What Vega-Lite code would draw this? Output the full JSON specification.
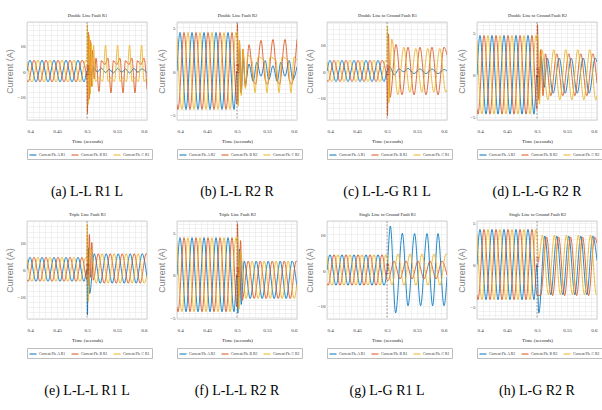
{
"$schema": "https://vega.github.io/schema/vega-lite/v6.json",
"padding": {"left": 4, "top": 11, "right": 2, "bottom": 4},
"background": "white",
"columns": 4,
"bounds": "flush",
"spacing": {"row": 101, "column": 30},
"resolve": {"scale": {"color": "independent"}, "legend": {"color": "independent"}},
"config": {
 "font": "Liberation Serif, DejaVu Serif, serif",
 "view": {"stroke": "#a8a8a8", "strokeWidth": 0.6},
 "axis": {"grid": true, "gridColor": "#e4e4e4", "gridWidth": 0.5, "domain": false, "ticks": false, "labelFontSize": 5, "labelColor": "#333", "labelFont": "Liberation Serif, DejaVu Serif, serif", "titleFont": "Liberation Serif, DejaVu Serif, serif", "titleFontWeight": "normal", "titleColor": "#222", "labelOverlap": false, "labelBound": false},
 "axisX": {"labelPadding": 8, "titleFontSize": 5, "titlePadding": 5},
 "axisY": {"labelPadding": 2, "titleFontSize": 9, "titleFont": "Liberation Sans, DejaVu Sans, sans-serif", "titleColor": "#808080", "titlePadding": 3},
 "legend": {"orient": "bottom", "direction": "horizontal", "labelFontSize": 3.8, "labelFont": "Liberation Serif, DejaVu Serif, serif", "labelColor": "#333", "symbolSize": 49, "symbolStrokeWidth": 1, "columnPadding": 3, "labelOffset": 2, "padding": 2, "strokeColor": "#bdbdbd", "fillColor": "white", "offset": 6},
 "title": {"font": "Liberation Serif, DejaVu Serif, serif", "fontSize": 14, "fontWeight": "normal", "color": "#000", "orient": "bottom", "offset": 25, "anchor": "middle"}
},
"datasets": {
"a": [
{"s":"A","t":0.4,"v":0},{"s":"A","t":0.405,"v":4.2},{"s":"A","t":0.415,"v":-4.2},{"s":"A","t":0.425,"v":4.2},{"s":"A","t":0.435,"v":-4.2},{"s":"A","t":0.445,"v":4.2},{"s":"A","t":0.455,"v":-4.2},{"s":"A","t":0.465,"v":4.2},{"s":"A","t":0.475,"v":-4.2},{"s":"A","t":0.485,"v":4.2},{"s":"A","t":0.495,"v":-4.2},
{"s":"A","t":0.5,"v":0},{"s":"A","t":0.503,"v":1.2},{"s":"A","t":0.507,"v":-1.8},{"s":"A","t":0.511,"v":1.5},{"s":"A","t":0.517,"v":-0.4},{"s":"A","t":0.524,"v":1.1},{"s":"A","t":0.531,"v":-0.6},{"s":"A","t":0.537,"v":0.7},{"s":"A","t":0.544,"v":-0.8},{"s":"A","t":0.551,"v":1},{"s":"A","t":0.558,"v":-0.5},{"s":"A","t":0.564,"v":0.8},{"s":"A","t":0.571,"v":-0.8},{"s":"A","t":0.578,"v":1},{"s":"A","t":0.585,"v":-0.5},{"s":"A","t":0.591,"v":0.8},{"s":"A","t":0.6,"v":-0.7},
{"s":"B","t":0.4,"v":-3.65},{"s":"B","t":0.4017,"v":-4.2},{"s":"B","t":0.4117,"v":4.2},{"s":"B","t":0.4217,"v":-4.2},{"s":"B","t":0.4317,"v":4.2},{"s":"B","t":0.4417,"v":-4.2},{"s":"B","t":0.4517,"v":4.2},{"s":"B","t":0.4617,"v":-4.2},{"s":"B","t":0.4717,"v":4.2},{"s":"B","t":0.4817,"v":-4.2},{"s":"B","t":0.4917,"v":4.2},
{"s":"B","t":0.5,"v":-3.6},{"s":"B","t":0.5008,"v":-16.5},{"s":"B","t":0.502,"v":15},{"s":"B","t":0.5035,"v":-11},{"s":"B","t":0.505,"v":12},{"s":"B","t":0.507,"v":-6},{"s":"B","t":0.509,"v":8},{"s":"B","t":0.512,"v":-3},{"s":"B","t":0.515,"v":5},{"s":"B","t":0.52,"v":-8},{"s":"B","t":0.524,"v":4},{"s":"B","t":0.53,"v":2.5},{"s":"B","t":0.535,"v":5},{"s":"B","t":0.54,"v":-8.5},{"s":"B","t":0.544,"v":4},{"s":"B","t":0.55,"v":2.5},{"s":"B","t":0.555,"v":5},{"s":"B","t":0.56,"v":-8.5},{"s":"B","t":0.564,"v":4},{"s":"B","t":0.57,"v":2.5},{"s":"B","t":0.575,"v":5},{"s":"B","t":0.58,"v":-8.5},{"s":"B","t":0.584,"v":4},{"s":"B","t":0.59,"v":2.5},{"s":"B","t":0.595,"v":5},{"s":"B","t":0.6,"v":-7},
{"s":"C","t":0.4,"v":3.65},{"s":"C","t":0.4083,"v":-4.2},{"s":"C","t":0.4183,"v":4.2},{"s":"C","t":0.4283,"v":-4.2},{"s":"C","t":0.4383,"v":4.2},{"s":"C","t":0.4483,"v":-4.2},{"s":"C","t":0.4583,"v":4.2},{"s":"C","t":0.4683,"v":-4.2},{"s":"C","t":0.4783,"v":4.2},{"s":"C","t":0.4883,"v":-4.2},{"s":"C","t":0.4983,"v":4.2},
{"s":"C","t":0.5,"v":3.8},{"s":"C","t":0.5008,"v":18},{"s":"C","t":0.5022,"v":-13},{"s":"C","t":0.5038,"v":14},{"s":"C","t":0.5055,"v":-9},{"s":"C","t":0.5072,"v":11},{"s":"C","t":0.509,"v":-6},{"s":"C","t":0.511,"v":10},{"s":"C","t":0.514,"v":-4},{"s":"C","t":0.52,"v":-2.5},{"s":"C","t":0.526,"v":-4},{"s":"C","t":0.531,"v":10},{"s":"C","t":0.535,"v":-4},{"s":"C","t":0.54,"v":-2.5},{"s":"C","t":0.546,"v":-4},{"s":"C","t":0.551,"v":10},{"s":"C","t":0.555,"v":-4},{"s":"C","t":0.56,"v":-2.5},{"s":"C","t":0.566,"v":-4},{"s":"C","t":0.571,"v":10},{"s":"C","t":0.575,"v":-4},{"s":"C","t":0.58,"v":-2.5},{"s":"C","t":0.586,"v":-4},{"s":"C","t":0.591,"v":10},{"s":"C","t":0.595,"v":-4},{"s":"C","t":0.6,"v":-2.5}
],
"b": [
{"s":"A","t":0.4,"v":0},{"s":"A","t":0.405,"v":4.4},{"s":"A","t":0.415,"v":-4.4},{"s":"A","t":0.425,"v":4.4},{"s":"A","t":0.435,"v":-4.4},{"s":"A","t":0.445,"v":4.4},{"s":"A","t":0.455,"v":-4.4},{"s":"A","t":0.465,"v":4.4},{"s":"A","t":0.475,"v":-4.4},{"s":"A","t":0.485,"v":4.4},{"s":"A","t":0.495,"v":-4.4},
{"s":"A","t":0.5,"v":0},{"s":"A","t":0.502,"v":-3.5},{"s":"A","t":0.504,"v":2.5},{"s":"A","t":0.507,"v":-2.5},{"s":"A","t":0.51,"v":1.5},{"s":"A","t":0.514,"v":-1.5},{"s":"A","t":0.52,"v":0.8},{"s":"A","t":0.527,"v":-1.2},{"s":"A","t":0.533,"v":1},{"s":"A","t":0.54,"v":-0.6},{"s":"A","t":0.547,"v":1.2},{"s":"A","t":0.553,"v":-1},{"s":"A","t":0.56,"v":0.6},{"s":"A","t":0.567,"v":-1.2},{"s":"A","t":0.573,"v":1},{"s":"A","t":0.58,"v":-0.6},{"s":"A","t":0.587,"v":1.2},{"s":"A","t":0.593,"v":-1},{"s":"A","t":0.6,"v":0.5},
{"s":"B","t":0.4,"v":-3.83},{"s":"B","t":0.4017,"v":-4.4},{"s":"B","t":0.4117,"v":4.4},{"s":"B","t":0.4217,"v":-4.4},{"s":"B","t":0.4317,"v":4.4},{"s":"B","t":0.4417,"v":-4.4},{"s":"B","t":0.4517,"v":4.4},{"s":"B","t":0.4617,"v":-4.4},{"s":"B","t":0.4717,"v":4.4},{"s":"B","t":0.4817,"v":-4.4},{"s":"B","t":0.4917,"v":4.4},
{"s":"B","t":0.5,"v":-3.8},{"s":"B","t":0.5008,"v":5.4},{"s":"B","t":0.502,"v":-3},{"s":"B","t":0.504,"v":3.5},{"s":"B","t":0.507,"v":-2.5},{"s":"B","t":0.51,"v":2.5},{"s":"B","t":0.514,"v":-1.8},{"s":"B","t":0.52,"v":3},{"s":"B","t":0.527,"v":-1},{"s":"B","t":0.531,"v":-1.5},{"s":"B","t":0.54,"v":3.5},{"s":"B","t":0.547,"v":-1},{"s":"B","t":0.551,"v":-1.5},{"s":"B","t":0.56,"v":3.6},{"s":"B","t":0.567,"v":-1},{"s":"B","t":0.571,"v":-1.5},{"s":"B","t":0.58,"v":3.6},{"s":"B","t":0.587,"v":-1},{"s":"B","t":0.591,"v":-1.5},{"s":"B","t":0.6,"v":3.6},
{"s":"C","t":0.4,"v":3.83},{"s":"C","t":0.4083,"v":-4.4},{"s":"C","t":0.4183,"v":4.4},{"s":"C","t":0.4283,"v":-4.4},{"s":"C","t":0.4383,"v":4.4},{"s":"C","t":0.4483,"v":-4.4},{"s":"C","t":0.4583,"v":4.4},{"s":"C","t":0.4683,"v":-4.4},{"s":"C","t":0.4783,"v":4.4},{"s":"C","t":0.4883,"v":-4.4},{"s":"C","t":0.4983,"v":4.4},
{"s":"C","t":0.5,"v":3.8},{"s":"C","t":0.5008,"v":4.5},{"s":"C","t":0.502,"v":-4},{"s":"C","t":0.504,"v":3.5},{"s":"C","t":0.507,"v":-2.8},{"s":"C","t":0.51,"v":2.5},{"s":"C","t":0.514,"v":-2},{"s":"C","t":0.518,"v":1.8},{"s":"C","t":0.525,"v":1.2},{"s":"C","t":0.53,"v":-2.5},{"s":"C","t":0.535,"v":1.6},{"s":"C","t":0.545,"v":1.2},{"s":"C","t":0.55,"v":-2.5},{"s":"C","t":0.555,"v":1.6},{"s":"C","t":0.565,"v":1.2},{"s":"C","t":0.57,"v":-2.5},{"s":"C","t":0.575,"v":1.6},{"s":"C","t":0.585,"v":1.2},{"s":"C","t":0.59,"v":-2.5},{"s":"C","t":0.595,"v":1.6},{"s":"C","t":0.6,"v":1.2}
],
"c": [
{"s":"A","t":0.4,"v":0},{"s":"A","t":0.405,"v":4},{"s":"A","t":0.415,"v":-4},{"s":"A","t":0.425,"v":4},{"s":"A","t":0.435,"v":-4},{"s":"A","t":0.445,"v":4},{"s":"A","t":0.455,"v":-4},{"s":"A","t":0.465,"v":4},{"s":"A","t":0.475,"v":-4},{"s":"A","t":0.485,"v":4},{"s":"A","t":0.495,"v":-4},
{"s":"A","t":0.5,"v":0},{"s":"A","t":0.505,"v":1.5},{"s":"A","t":0.512,"v":-1.5},{"s":"A","t":0.52,"v":0.8},{"s":"A","t":0.528,"v":-0.3},{"s":"A","t":0.535,"v":1},{"s":"A","t":0.545,"v":-1},{"s":"A","t":0.555,"v":0.8},{"s":"A","t":0.565,"v":-1},{"s":"A","t":0.575,"v":0.8},{"s":"A","t":0.585,"v":-1},{"s":"A","t":0.595,"v":0.6},{"s":"A","t":0.6,"v":0},
{"s":"B","t":0.4,"v":-3.48},{"s":"B","t":0.4017,"v":-4},{"s":"B","t":0.4117,"v":4},{"s":"B","t":0.4217,"v":-4},{"s":"B","t":0.4317,"v":4},{"s":"B","t":0.4417,"v":-4},{"s":"B","t":0.4517,"v":4},{"s":"B","t":0.4617,"v":-4},{"s":"B","t":0.4717,"v":4},{"s":"B","t":0.4817,"v":-4},{"s":"B","t":0.4917,"v":4},
{"s":"B","t":0.5,"v":-3.5},{"s":"B","t":0.5008,"v":-17},{"s":"B","t":0.5025,"v":14},{"s":"B","t":0.505,"v":-10},{"s":"B","t":0.515,"v":10},{"s":"B","t":0.525,"v":-9},{"s":"B","t":0.535,"v":9},{"s":"B","t":0.545,"v":-9},{"s":"B","t":0.555,"v":9},{"s":"B","t":0.565,"v":-9},{"s":"B","t":0.575,"v":9},{"s":"B","t":0.585,"v":-9},{"s":"B","t":0.595,"v":9},{"s":"B","t":0.6,"v":6},
{"s":"C","t":0.4,"v":3.48},{"s":"C","t":0.4083,"v":-4},{"s":"C","t":0.4183,"v":4},{"s":"C","t":0.4283,"v":-4},{"s":"C","t":0.4383,"v":4},{"s":"C","t":0.4483,"v":-4},{"s":"C","t":0.4583,"v":4},{"s":"C","t":0.4683,"v":-4},{"s":"C","t":0.4783,"v":4},{"s":"C","t":0.4883,"v":-4},{"s":"C","t":0.4983,"v":4},
{"s":"C","t":0.5,"v":3.5},{"s":"C","t":0.5008,"v":17},{"s":"C","t":0.503,"v":-12},{"s":"C","t":0.508,"v":12},{"s":"C","t":0.518,"v":-9},{"s":"C","t":0.528,"v":9},{"s":"C","t":0.538,"v":-8},{"s":"C","t":0.548,"v":8.5},{"s":"C","t":0.558,"v":-8},{"s":"C","t":0.568,"v":8.5},{"s":"C","t":0.578,"v":-8},{"s":"C","t":0.588,"v":8.5},{"s":"C","t":0.598,"v":-8},{"s":"C","t":0.6,"v":-7}
],
"d": [
{"s":"A","t":0.4,"v":0},{"s":"A","t":0.405,"v":4.7},{"s":"A","t":0.415,"v":-4.7},{"s":"A","t":0.425,"v":4.7},{"s":"A","t":0.435,"v":-4.7},{"s":"A","t":0.445,"v":4.7},{"s":"A","t":0.455,"v":-4.7},{"s":"A","t":0.465,"v":4.7},{"s":"A","t":0.475,"v":-4.7},{"s":"A","t":0.485,"v":4.7},{"s":"A","t":0.495,"v":-4.7},
{"s":"A","t":0.5,"v":0},{"s":"A","t":0.503,"v":-2.8},{"s":"A","t":0.507,"v":2.2},{"s":"A","t":0.512,"v":-1.5},{"s":"A","t":0.517,"v":2},{"s":"A","t":0.527,"v":-2.2},{"s":"A","t":0.537,"v":2},{"s":"A","t":0.547,"v":-2.2},{"s":"A","t":0.557,"v":2},{"s":"A","t":0.567,"v":-2.2},{"s":"A","t":0.577,"v":2},{"s":"A","t":0.587,"v":-2.2},{"s":"A","t":0.597,"v":2},{"s":"A","t":0.6,"v":1.5},
{"s":"B","t":0.4,"v":-4.09},{"s":"B","t":0.4017,"v":-4.7},{"s":"B","t":0.4117,"v":4.7},{"s":"B","t":0.4217,"v":-4.7},{"s":"B","t":0.4317,"v":4.7},{"s":"B","t":0.4417,"v":-4.7},{"s":"B","t":0.4517,"v":4.7},{"s":"B","t":0.4617,"v":-4.7},{"s":"B","t":0.4717,"v":4.7},{"s":"B","t":0.4817,"v":-4.7},{"s":"B","t":0.4917,"v":4.7},
{"s":"B","t":0.5,"v":-4.1},{"s":"B","t":0.5008,"v":6},{"s":"B","t":0.503,"v":-3},{"s":"B","t":0.506,"v":3},{"s":"B","t":0.51,"v":-2.5},{"s":"B","t":0.514,"v":2.5},{"s":"B","t":0.523,"v":-2.5},{"s":"B","t":0.533,"v":2.5},{"s":"B","t":0.543,"v":-2.5},{"s":"B","t":0.553,"v":2.5},{"s":"B","t":0.563,"v":-2.5},{"s":"B","t":0.573,"v":2.5},{"s":"B","t":0.583,"v":-2.5},{"s":"B","t":0.593,"v":2.5},{"s":"B","t":0.6,"v":-1},
{"s":"C","t":0.4,"v":4.09},{"s":"C","t":0.4083,"v":-4.7},{"s":"C","t":0.4183,"v":4.7},{"s":"C","t":0.4283,"v":-4.7},{"s":"C","t":0.4383,"v":4.7},{"s":"C","t":0.4483,"v":-4.7},{"s":"C","t":0.4583,"v":4.7},{"s":"C","t":0.4683,"v":-4.7},{"s":"C","t":0.4783,"v":4.7},{"s":"C","t":0.4883,"v":-4.7},{"s":"C","t":0.4983,"v":4.7},
{"s":"C","t":0.5,"v":4.1},{"s":"C","t":0.501,"v":4.8},{"s":"C","t":0.504,"v":-3.5},{"s":"C","t":0.508,"v":3},{"s":"C","t":0.518,"v":-3},{"s":"C","t":0.528,"v":3},{"s":"C","t":0.538,"v":-3},{"s":"C","t":0.548,"v":3},{"s":"C","t":0.558,"v":-3},{"s":"C","t":0.568,"v":3},{"s":"C","t":0.578,"v":-3},{"s":"C","t":0.588,"v":3},{"s":"C","t":0.598,"v":-3},{"s":"C","t":0.6,"v":-2.5}
],
"e": [
{"s":"A","t":0.4,"v":0},{"s":"A","t":0.405,"v":4.5},{"s":"A","t":0.415,"v":-4.5},{"s":"A","t":0.425,"v":4.5},{"s":"A","t":0.435,"v":-4.5},{"s":"A","t":0.445,"v":4.5},{"s":"A","t":0.455,"v":-4.5},{"s":"A","t":0.465,"v":4.5},{"s":"A","t":0.475,"v":-4.5},{"s":"A","t":0.485,"v":4.5},{"s":"A","t":0.495,"v":-4.5},
{"s":"A","t":0.5,"v":0},{"s":"A","t":0.5008,"v":-17},{"s":"A","t":0.502,"v":8},{"s":"A","t":0.5045,"v":-9},{"s":"A","t":0.512,"v":5.8},{"s":"A","t":0.522,"v":-5.2},{"s":"A","t":0.532,"v":5.8},{"s":"A","t":0.542,"v":-5.2},{"s":"A","t":0.552,"v":5.8},{"s":"A","t":0.562,"v":-5.2},{"s":"A","t":0.572,"v":5.8},{"s":"A","t":0.582,"v":-5.2},{"s":"A","t":0.592,"v":5.8},{"s":"A","t":0.6,"v":-3},
{"s":"B","t":0.4,"v":-3.92},{"s":"B","t":0.4017,"v":-4.5},{"s":"B","t":0.4117,"v":4.5},{"s":"B","t":0.4217,"v":-4.5},{"s":"B","t":0.4317,"v":4.5},{"s":"B","t":0.4417,"v":-4.5},{"s":"B","t":0.4517,"v":4.5},{"s":"B","t":0.4617,"v":-4.5},{"s":"B","t":0.4717,"v":4.5},{"s":"B","t":0.4817,"v":-4.5},{"s":"B","t":0.4917,"v":4.5},
{"s":"B","t":0.5,"v":-3.9},{"s":"B","t":0.5008,"v":13},{"s":"B","t":0.5025,"v":-6},{"s":"B","t":0.504,"v":13},{"s":"B","t":0.506,"v":-3},{"s":"B","t":0.508,"v":10},{"s":"B","t":0.5105,"v":-4},{"s":"B","t":0.5187,"v":5.8},{"s":"B","t":0.5287,"v":-5.2},{"s":"B","t":0.5387,"v":5.8},{"s":"B","t":0.5487,"v":-5.2},{"s":"B","t":0.5587,"v":5.8},{"s":"B","t":0.5687,"v":-5.2},{"s":"B","t":0.5787,"v":5.8},{"s":"B","t":0.5887,"v":-5.2},{"s":"B","t":0.5987,"v":5.8},{"s":"B","t":0.6,"v":5.6},
{"s":"C","t":0.4,"v":3.92},{"s":"C","t":0.4083,"v":-4.5},{"s":"C","t":0.4183,"v":4.5},{"s":"C","t":0.4283,"v":-4.5},{"s":"C","t":0.4383,"v":4.5},{"s":"C","t":0.4483,"v":-4.5},{"s":"C","t":0.4583,"v":4.5},{"s":"C","t":0.4683,"v":-4.5},{"s":"C","t":0.4783,"v":4.5},{"s":"C","t":0.4883,"v":-4.5},{"s":"C","t":0.4983,"v":4.5},
{"s":"C","t":0.5,"v":3.9},{"s":"C","t":0.5005,"v":17},{"s":"C","t":0.502,"v":-12},{"s":"C","t":0.5053,"v":8},{"s":"C","t":0.5153,"v":-5.2},{"s":"C","t":0.5253,"v":5.8},{"s":"C","t":0.5353,"v":-5.2},{"s":"C","t":0.5453,"v":5.8},{"s":"C","t":0.5553,"v":-5.2},{"s":"C","t":0.5653,"v":5.8},{"s":"C","t":0.5753,"v":-5.2},{"s":"C","t":0.5853,"v":5.8},{"s":"C","t":0.5953,"v":-5.2},{"s":"C","t":0.6,"v":-2}
],
"f": [
{"s":"A","t":0.4,"v":0},{"s":"A","t":0.405,"v":4.35},{"s":"A","t":0.415,"v":-4.35},{"s":"A","t":0.425,"v":4.35},{"s":"A","t":0.435,"v":-4.35},{"s":"A","t":0.445,"v":4.35},{"s":"A","t":0.455,"v":-4.35},{"s":"A","t":0.465,"v":4.35},{"s":"A","t":0.475,"v":-4.35},{"s":"A","t":0.485,"v":4.35},{"s":"A","t":0.495,"v":-4.35},
{"s":"A","t":0.5,"v":0},{"s":"A","t":0.5015,"v":-4.5},{"s":"A","t":0.504,"v":3},{"s":"A","t":0.507,"v":-3.5},{"s":"A","t":0.512,"v":1.6},{"s":"A","t":0.522,"v":-2.8},{"s":"A","t":0.532,"v":1.6},{"s":"A","t":0.542,"v":-2.8},{"s":"A","t":0.552,"v":1.6},{"s":"A","t":0.562,"v":-2.8},{"s":"A","t":0.572,"v":1.6},{"s":"A","t":0.582,"v":-2.8},{"s":"A","t":0.592,"v":1.6},{"s":"A","t":0.6,"v":-1.5},
{"s":"B","t":0.4,"v":-3.78},{"s":"B","t":0.4017,"v":-4.35},{"s":"B","t":0.4117,"v":4.35},{"s":"B","t":0.4217,"v":-4.35},{"s":"B","t":0.4317,"v":4.35},{"s":"B","t":0.4417,"v":-4.35},{"s":"B","t":0.4517,"v":4.35},{"s":"B","t":0.4617,"v":-4.35},{"s":"B","t":0.4717,"v":4.35},{"s":"B","t":0.4817,"v":-4.35},{"s":"B","t":0.4917,"v":4.35},
{"s":"B","t":0.5,"v":-3.8},{"s":"B","t":0.5008,"v":6},{"s":"B","t":0.503,"v":-2.5},{"s":"B","t":0.506,"v":4},{"s":"B","t":0.5087,"v":-3},{"s":"B","t":0.5187,"v":1.6},{"s":"B","t":0.5287,"v":-2.8},{"s":"B","t":0.5387,"v":1.6},{"s":"B","t":0.5487,"v":-2.8},{"s":"B","t":0.5587,"v":1.6},{"s":"B","t":0.5687,"v":-2.8},{"s":"B","t":0.5787,"v":1.6},{"s":"B","t":0.5887,"v":-2.8},{"s":"B","t":0.5987,"v":1.6},{"s":"B","t":0.6,"v":1.5},
{"s":"C","t":0.4,"v":3.78},{"s":"C","t":0.4083,"v":-4.35},{"s":"C","t":0.4183,"v":4.35},{"s":"C","t":0.4283,"v":-4.35},{"s":"C","t":0.4383,"v":4.35},{"s":"C","t":0.4483,"v":-4.35},{"s":"C","t":0.4583,"v":4.35},{"s":"C","t":0.4683,"v":-4.35},{"s":"C","t":0.4783,"v":4.35},{"s":"C","t":0.4883,"v":-4.35},{"s":"C","t":0.4983,"v":4.35},
{"s":"C","t":0.5,"v":3.8},{"s":"C","t":0.501,"v":4.5},{"s":"C","t":0.5035,"v":-4},{"s":"C","t":0.5053,"v":2.8},{"s":"C","t":0.5153,"v":-2.8},{"s":"C","t":0.5253,"v":1.6},{"s":"C","t":0.5353,"v":-2.8},{"s":"C","t":0.5453,"v":1.6},{"s":"C","t":0.5553,"v":-2.8},{"s":"C","t":0.5653,"v":1.6},{"s":"C","t":0.5753,"v":-2.8},{"s":"C","t":0.5853,"v":1.6},{"s":"C","t":0.5953,"v":-2.8},{"s":"C","t":0.6,"v":-1}
],
"g": [
{"s":"A","t":0.4,"v":0},{"s":"A","t":0.405,"v":4.3},{"s":"A","t":0.415,"v":-4.3},{"s":"A","t":0.425,"v":4.3},{"s":"A","t":0.435,"v":-4.3},{"s":"A","t":0.445,"v":4.3},{"s":"A","t":0.455,"v":-4.3},{"s":"A","t":0.465,"v":4.3},{"s":"A","t":0.475,"v":-4.3},{"s":"A","t":0.485,"v":4.3},{"s":"A","t":0.495,"v":-4.3},
{"s":"A","t":0.5,"v":0},{"s":"A","t":0.5056,"v":12.3},{"s":"A","t":0.5144,"v":-12},{"s":"A","t":0.5256,"v":10.3},{"s":"A","t":0.535,"v":-10},{"s":"A","t":0.546,"v":10.2},{"s":"A","t":0.556,"v":-10},{"s":"A","t":0.5667,"v":10.2},{"s":"A","t":0.576,"v":-10},{"s":"A","t":0.585,"v":10.2},{"s":"A","t":0.595,"v":-10},{"s":"A","t":0.6,"v":-2},
{"s":"B","t":0.4,"v":-3.74},{"s":"B","t":0.4017,"v":-4.3},{"s":"B","t":0.4117,"v":4.3},{"s":"B","t":0.4217,"v":-4.3},{"s":"B","t":0.4317,"v":4.3},{"s":"B","t":0.4417,"v":-4.3},{"s":"B","t":0.4517,"v":4.3},{"s":"B","t":0.4617,"v":-4.3},{"s":"B","t":0.4717,"v":4.3},{"s":"B","t":0.4817,"v":-4.3},{"s":"B","t":0.4917,"v":4.3},
{"s":"B","t":0.5,"v":-2.8},{"s":"B","t":0.5017,"v":-3},{"s":"B","t":0.5117,"v":2.5},{"s":"B","t":0.5217,"v":-2.5},{"s":"B","t":0.5317,"v":2.5},{"s":"B","t":0.5417,"v":-2.5},{"s":"B","t":0.5517,"v":2.5},{"s":"B","t":0.5617,"v":-2.5},{"s":"B","t":0.5717,"v":2.5},{"s":"B","t":0.5817,"v":-2.5},{"s":"B","t":0.5917,"v":2.5},{"s":"B","t":0.6,"v":-1.5},
{"s":"C","t":0.4,"v":3.74},{"s":"C","t":0.4083,"v":-4.3},{"s":"C","t":0.4183,"v":4.3},{"s":"C","t":0.4283,"v":-4.3},{"s":"C","t":0.4383,"v":4.3},{"s":"C","t":0.4483,"v":-4.3},{"s":"C","t":0.4583,"v":4.3},{"s":"C","t":0.4683,"v":-4.3},{"s":"C","t":0.4783,"v":4.3},{"s":"C","t":0.4883,"v":-4.3},{"s":"C","t":0.4983,"v":4.3},
{"s":"C","t":0.5,"v":3.7},{"s":"C","t":0.5083,"v":-4.3},{"s":"C","t":0.5183,"v":4.5},{"s":"C","t":0.5283,"v":-4.3},{"s":"C","t":0.5383,"v":4.5},{"s":"C","t":0.5483,"v":-4.3},{"s":"C","t":0.5583,"v":4.5},{"s":"C","t":0.5683,"v":-4.3},{"s":"C","t":0.5783,"v":4.5},{"s":"C","t":0.5883,"v":-4.3},{"s":"C","t":0.5983,"v":4.5},{"s":"C","t":0.6,"v":4.3}
],
"h": [
{"s":"A","t":0.4,"v":0},{"s":"A","t":0.405,"v":4.2},{"s":"A","t":0.415,"v":-4.2},{"s":"A","t":0.425,"v":4.2},{"s":"A","t":0.435,"v":-4.2},{"s":"A","t":0.445,"v":4.2},{"s":"A","t":0.455,"v":-4.2},{"s":"A","t":0.465,"v":4.2},{"s":"A","t":0.475,"v":-4.2},{"s":"A","t":0.485,"v":4.2},{"s":"A","t":0.495,"v":-4.2},
{"s":"A","t":0.5,"v":0},{"s":"A","t":0.503,"v":-5.8},{"s":"A","t":0.513,"v":3.4},{"s":"A","t":0.523,"v":-3.6},{"s":"A","t":0.533,"v":3.4},{"s":"A","t":0.543,"v":-3.6},{"s":"A","t":0.553,"v":3.4},{"s":"A","t":0.563,"v":-3.6},{"s":"A","t":0.573,"v":3.4},{"s":"A","t":0.583,"v":-3.6},{"s":"A","t":0.593,"v":3.4},{"s":"A","t":0.6,"v":0.5},
{"s":"B","t":0.4,"v":-3.65},{"s":"B","t":0.4017,"v":-4.2},{"s":"B","t":0.4117,"v":4.2},{"s":"B","t":0.4217,"v":-4.2},{"s":"B","t":0.4317,"v":4.2},{"s":"B","t":0.4417,"v":-4.2},{"s":"B","t":0.4517,"v":4.2},{"s":"B","t":0.4617,"v":-4.2},{"s":"B","t":0.4717,"v":4.2},{"s":"B","t":0.4817,"v":-4.2},{"s":"B","t":0.4917,"v":4.2},
{"s":"B","t":0.5,"v":-3.65},{"s":"B","t":0.506,"v":-3.7},{"s":"B","t":0.516,"v":3.3},{"s":"B","t":0.526,"v":-3.7},{"s":"B","t":0.536,"v":3.3},{"s":"B","t":0.546,"v":-3.7},{"s":"B","t":0.556,"v":3.3},{"s":"B","t":0.566,"v":-3.7},{"s":"B","t":0.576,"v":3.3},{"s":"B","t":0.586,"v":-3.7},{"s":"B","t":0.596,"v":3.3},{"s":"B","t":0.6,"v":2.5},
{"s":"C","t":0.4,"v":3.65},{"s":"C","t":0.4083,"v":-4.2},{"s":"C","t":0.4183,"v":4.2},{"s":"C","t":0.4283,"v":-4.2},{"s":"C","t":0.4383,"v":4.2},{"s":"C","t":0.4483,"v":-4.2},{"s":"C","t":0.4583,"v":4.2},{"s":"C","t":0.4683,"v":-4.2},{"s":"C","t":0.4783,"v":4.2},{"s":"C","t":0.4883,"v":-4.2},{"s":"C","t":0.4983,"v":4.2},
{"s":"C","t":0.5,"v":3.65},{"s":"C","t":0.5025,"v":0.5},{"s":"C","t":0.509,"v":3.5},{"s":"C","t":0.519,"v":-3.6},{"s":"C","t":0.529,"v":3.5},{"s":"C","t":0.539,"v":-3.6},{"s":"C","t":0.549,"v":3.5},{"s":"C","t":0.559,"v":-3.6},{"s":"C","t":0.569,"v":3.5},{"s":"C","t":0.579,"v":-3.6},{"s":"C","t":0.589,"v":3.5},{"s":"C","t":0.599,"v":-3.6},{"s":"C","t":0.6,"v":-3.5}
]
},
"concat": [
{"width":120,"height":98,"title":{"text":"(a) L-L R1 L"},"resolve":{"axis":{"x":"independent","y":"independent"}},
 "layer":[
  {"data":{"name":"a"},"mark":{"type":"line","interpolate":"monotone","strokeWidth":0.85,"clip":true},
   "encoding":{
    "x":{"field":"t","type":"quantitative","scale":{"domain":[0.4,0.6],"nice":false,"zero":false},"axis":{"title":"Time (seconds)","labelOverlap":false,"values":[0.4,0.41,0.42,0.43,0.44,0.45,0.46,0.47,0.48,0.49,0.5,0.51,0.52,0.53,0.54,0.55,0.56,0.57,0.58,0.59,0.6],"labelExpr":"indexof([0.4,0.45,0.5,0.55,0.6], datum.value) >= 0 ? format(datum.value, '~g') : ''"}},
    "y":{"field":"v","type":"quantitative","scale":{"domain":[-19,19],"nice":false,"zero":false},"axis":{"title":"Current (A)","labelOverlap":false,"values":[-18,-16,-14,-12,-10,-8,-6,-4,-2,0,2,4,6,8,10,12,14,16,18],"labelExpr":"indexof([-10,0,10], datum.value) >= 0 ? format(datum.value, 'd') : ''"}},
    "color":{"field":"s","type":"nominal","scale":{"domain":["A","B","C"],"range":["#0072BD","#D95319","#EDB120"]},"legend":{"title":null,"labelExpr":"'Current Ph. ' + datum.label + ' R1'"}}}},
  {"data":{"values":[{}]},"mark":{"type":"rule","strokeDash":[2,1.5],"color":"#666","strokeWidth":0.6},
   "encoding":{"x":{"datum":0.5,"type":"quantitative","axis":{"orient":"top","title":"Double Line Fault R1","labels":false,"ticks":false,"grid":false,"domain":false,"titleFontSize":4.5,"titlePadding":5}}}},
  {"data":{"values":[{}]},"mark":{"type":"text","angle":270,"fontSize":5,"color":"#B22222"},
   "encoding":{"x":{"datum":0.5,"type":"quantitative","axis":null},"y":{"datum":0.3,"type":"quantitative","axis":null},"text":{"value":"Fault"}}}
 ]},
{"width":120,"height":98,"title":{"text":"(b) L-L R2 R"},"resolve":{"axis":{"x":"independent","y":"independent"}},
 "layer":[
  {"data":{"name":"b"},"mark":{"type":"line","interpolate":"monotone","strokeWidth":0.85,"clip":true},
   "encoding":{
    "x":{"field":"t","type":"quantitative","scale":{"domain":[0.4,0.6],"nice":false,"zero":false},"axis":{"title":"Time (seconds)","labelOverlap":false,"values":[0.4,0.41,0.42,0.43,0.44,0.45,0.46,0.47,0.48,0.49,0.5,0.51,0.52,0.53,0.54,0.55,0.56,0.57,0.58,0.59,0.6],"labelExpr":"indexof([0.4,0.45,0.5,0.55,0.6], datum.value) >= 0 ? format(datum.value, '~g') : ''"}},
    "y":{"field":"v","type":"quantitative","scale":{"domain":[-5.6,5.6],"nice":false,"zero":false},"axis":{"title":"Current (A)","labelOverlap":false,"values":[-5.5,-5,-4.5,-4,-3.5,-3,-2.5,-2,-1.5,-1,-0.5,0,0.5,1,1.5,2,2.5,3,3.5,4,4.5,5,5.5],"labelExpr":"indexof([-5,0,5], datum.value) >= 0 ? format(datum.value, 'd') : ''"}},
    "color":{"field":"s","type":"nominal","scale":{"domain":["A","B","C"],"range":["#0072BD","#D95319","#EDB120"]},"legend":{"title":null,"labelExpr":"'Current Ph. ' + datum.label + ' R2'"}}}},
  {"data":{"values":[{}]},"mark":{"type":"rule","strokeDash":[2,1.5],"color":"#666","strokeWidth":0.6},
   "encoding":{"x":{"datum":0.5,"type":"quantitative","axis":{"orient":"top","title":"Double Line Fault R2","labels":false,"ticks":false,"grid":false,"domain":false,"titleFontSize":4.5,"titlePadding":5}}}},
  {"data":{"values":[{}]},"mark":{"type":"text","angle":270,"fontSize":5,"color":"#B22222"},
   "encoding":{"x":{"datum":0.5,"type":"quantitative","axis":null},"y":{"datum":0.3,"type":"quantitative","axis":null},"text":{"value":"Fault"}}}
 ]},
{"width":120,"height":98,"title":{"text":"(c) L-L-G R1 L"},"resolve":{"axis":{"x":"independent","y":"independent"}},
 "layer":[
  {"data":{"name":"c"},"mark":{"type":"line","interpolate":"monotone","strokeWidth":0.85,"clip":true},
   "encoding":{
    "x":{"field":"t","type":"quantitative","scale":{"domain":[0.4,0.6],"nice":false,"zero":false},"axis":{"title":"Time (seconds)","labelOverlap":false,"values":[0.4,0.41,0.42,0.43,0.44,0.45,0.46,0.47,0.48,0.49,0.5,0.51,0.52,0.53,0.54,0.55,0.56,0.57,0.58,0.59,0.6],"labelExpr":"indexof([0.4,0.45,0.5,0.55,0.6], datum.value) >= 0 ? format(datum.value, '~g') : ''"}},
    "y":{"field":"v","type":"quantitative","scale":{"domain":[-18.5,18.5],"nice":false,"zero":false},"axis":{"title":"Current (A)","labelOverlap":false,"values":[-18,-16,-14,-12,-10,-8,-6,-4,-2,0,2,4,6,8,10,12,14,16,18],"labelExpr":"indexof([-10,0,10], datum.value) >= 0 ? format(datum.value, 'd') : ''"}},
    "color":{"field":"s","type":"nominal","scale":{"domain":["A","B","C"],"range":["#0072BD","#D95319","#EDB120"]},"legend":{"title":null,"labelExpr":"'Current Ph. ' + datum.label + ' R1'"}}}},
  {"data":{"values":[{}]},"mark":{"type":"rule","strokeDash":[2,1.5],"color":"#666","strokeWidth":0.6},
   "encoding":{"x":{"datum":0.5,"type":"quantitative","axis":{"orient":"top","title":"Double Line to Ground Fault R1","labels":false,"ticks":false,"grid":false,"domain":false,"titleFontSize":4.5,"titlePadding":5}}}},
  {"data":{"values":[{}]},"mark":{"type":"text","angle":270,"fontSize":5,"color":"#B22222"},
   "encoding":{"x":{"datum":0.5,"type":"quantitative","axis":null},"y":{"datum":0.3,"type":"quantitative","axis":null},"text":{"value":"Fault"}}}
 ]},
{"width":120,"height":98,"title":{"text":"(d) L-L-G R2 R"},"resolve":{"axis":{"x":"independent","y":"independent"}},
 "layer":[
  {"data":{"name":"d"},"mark":{"type":"line","interpolate":"monotone","strokeWidth":0.85,"clip":true},
   "encoding":{
    "x":{"field":"t","type":"quantitative","scale":{"domain":[0.4,0.6],"nice":false,"zero":false},"axis":{"title":"Time (seconds)","labelOverlap":false,"values":[0.4,0.41,0.42,0.43,0.44,0.45,0.46,0.47,0.48,0.49,0.5,0.51,0.52,0.53,0.54,0.55,0.56,0.57,0.58,0.59,0.6],"labelExpr":"indexof([0.4,0.45,0.5,0.55,0.6], datum.value) >= 0 ? format(datum.value, '~g') : ''"}},
    "y":{"field":"v","type":"quantitative","scale":{"domain":[-5.4,6.3],"nice":false,"zero":false},"axis":{"title":"Current (A)","labelOverlap":false,"values":[-5,-4.5,-4,-3.5,-3,-2.5,-2,-1.5,-1,-0.5,0,0.5,1,1.5,2,2.5,3,3.5,4,4.5,5,5.5,6],"labelExpr":"indexof([-5,0,5], datum.value) >= 0 ? format(datum.value, 'd') : ''"}},
    "color":{"field":"s","type":"nominal","scale":{"domain":["A","B","C"],"range":["#0072BD","#D95319","#EDB120"]},"legend":{"title":null,"labelExpr":"'Current Ph. ' + datum.label + ' R2'"}}}},
  {"data":{"values":[{}]},"mark":{"type":"rule","strokeDash":[2,1.5],"color":"#666","strokeWidth":0.6},
   "encoding":{"x":{"datum":0.5,"type":"quantitative","axis":{"orient":"top","title":"Double Line to Ground Fault R2","labels":false,"ticks":false,"grid":false,"domain":false,"titleFontSize":4.5,"titlePadding":5}}}},
  {"data":{"values":[{}]},"mark":{"type":"text","angle":270,"fontSize":5,"color":"#B22222"},
   "encoding":{"x":{"datum":0.5,"type":"quantitative","axis":null},"y":{"datum":0.3,"type":"quantitative","axis":null},"text":{"value":"Fault"}}}
 ]},
{"width":120,"height":98,"title":{"text":"(e) L-L-L R1 L"},"resolve":{"axis":{"x":"independent","y":"independent"}},
 "layer":[
  {"data":{"name":"e"},"mark":{"type":"line","interpolate":"monotone","strokeWidth":0.85,"clip":true},
   "encoding":{
    "x":{"field":"t","type":"quantitative","scale":{"domain":[0.4,0.6],"nice":false,"zero":false},"axis":{"title":"Time (seconds)","labelOverlap":false,"values":[0.4,0.41,0.42,0.43,0.44,0.45,0.46,0.47,0.48,0.49,0.5,0.51,0.52,0.53,0.54,0.55,0.56,0.57,0.58,0.59,0.6],"labelExpr":"indexof([0.4,0.45,0.5,0.55,0.6], datum.value) >= 0 ? format(datum.value, '~g') : ''"}},
    "y":{"field":"v","type":"quantitative","scale":{"domain":[-18.5,18],"nice":false,"zero":false},"axis":{"title":"Current (A)","labelOverlap":false,"values":[-18,-16,-14,-12,-10,-8,-6,-4,-2,0,2,4,6,8,10,12,14,16,18],"labelExpr":"indexof([-10,0,10], datum.value) >= 0 ? format(datum.value, 'd') : ''"}},
    "color":{"field":"s","type":"nominal","scale":{"domain":["A","B","C"],"range":["#0072BD","#D95319","#EDB120"]},"legend":{"title":null,"labelExpr":"'Current Ph. ' + datum.label + ' R1'"}}}},
  {"data":{"values":[{}]},"mark":{"type":"rule","strokeDash":[2,1.5],"color":"#666","strokeWidth":0.6},
   "encoding":{"x":{"datum":0.5,"type":"quantitative","axis":{"orient":"top","title":"Triple Line Fault R1","labels":false,"ticks":false,"grid":false,"domain":false,"titleFontSize":4.5,"titlePadding":5}}}},
  {"data":{"values":[{}]},"mark":{"type":"text","angle":270,"fontSize":5,"color":"#B22222"},
   "encoding":{"x":{"datum":0.5,"type":"quantitative","axis":null},"y":{"datum":0.3,"type":"quantitative","axis":null},"text":{"value":"Fault"}}}
 ]},
{"width":120,"height":98,"title":{"text":"(f) L-L-L R2 R"},"resolve":{"axis":{"x":"independent","y":"independent"}},
 "layer":[
  {"data":{"name":"f"},"mark":{"type":"line","interpolate":"monotone","strokeWidth":0.85,"clip":true},
   "encoding":{
    "x":{"field":"t","type":"quantitative","scale":{"domain":[0.4,0.6],"nice":false,"zero":false},"axis":{"title":"Time (seconds)","labelOverlap":false,"values":[0.4,0.41,0.42,0.43,0.44,0.45,0.46,0.47,0.48,0.49,0.5,0.51,0.52,0.53,0.54,0.55,0.56,0.57,0.58,0.59,0.6],"labelExpr":"indexof([0.4,0.45,0.5,0.55,0.6], datum.value) >= 0 ? format(datum.value, '~g') : ''"}},
    "y":{"field":"v","type":"quantitative","scale":{"domain":[-5.2,6.3],"nice":false,"zero":false},"axis":{"title":"Current (A)","labelOverlap":false,"values":[-5,-4.5,-4,-3.5,-3,-2.5,-2,-1.5,-1,-0.5,0,0.5,1,1.5,2,2.5,3,3.5,4,4.5,5,5.5,6],"labelExpr":"indexof([-5,0,5], datum.value) >= 0 ? format(datum.value, 'd') : ''"}},
    "color":{"field":"s","type":"nominal","scale":{"domain":["A","B","C"],"range":["#0072BD","#D95319","#EDB120"]},"legend":{"title":null,"labelExpr":"'Current Ph. ' + datum.label + ' R2'"}}}},
  {"data":{"values":[{}]},"mark":{"type":"rule","strokeDash":[2,1.5],"color":"#666","strokeWidth":0.6},
   "encoding":{"x":{"datum":0.5,"type":"quantitative","axis":{"orient":"top","title":"Triple Line Fault R2","labels":false,"ticks":false,"grid":false,"domain":false,"titleFontSize":4.5,"titlePadding":5}}}},
  {"data":{"values":[{}]},"mark":{"type":"text","angle":270,"fontSize":5,"color":"#B22222"},
   "encoding":{"x":{"datum":0.5,"type":"quantitative","axis":null},"y":{"datum":0.3,"type":"quantitative","axis":null},"text":{"value":"Fault"}}}
 ]},
{"width":120,"height":98,"title":{"text":"(g) L-G R1 L"},"resolve":{"axis":{"x":"independent","y":"independent"}},
 "layer":[
  {"data":{"name":"g"},"mark":{"type":"line","interpolate":"monotone","strokeWidth":0.85,"clip":true},
   "encoding":{
    "x":{"field":"t","type":"quantitative","scale":{"domain":[0.4,0.6],"nice":false,"zero":false},"axis":{"title":"Time (seconds)","labelOverlap":false,"values":[0.4,0.41,0.42,0.43,0.44,0.45,0.46,0.47,0.48,0.49,0.5,0.51,0.52,0.53,0.54,0.55,0.56,0.57,0.58,0.59,0.6],"labelExpr":"indexof([0.4,0.45,0.5,0.55,0.6], datum.value) >= 0 ? format(datum.value, '~g') : ''"}},
    "y":{"field":"v","type":"quantitative","scale":{"domain":[-13.7,13.7],"nice":false,"zero":false},"axis":{"title":"Current (A)","labelOverlap":false,"values":[-12,-10,-8,-6,-4,-2,0,2,4,6,8,10,12],"labelExpr":"indexof([-10,0,10], datum.value) >= 0 ? format(datum.value, 'd') : ''"}},
    "color":{"field":"s","type":"nominal","scale":{"domain":["A","B","C"],"range":["#0072BD","#D95319","#EDB120"]},"legend":{"title":null,"labelExpr":"'Current Ph. ' + datum.label + ' R1'"}}}},
  {"data":{"values":[{}]},"mark":{"type":"rule","strokeDash":[2,1.5],"color":"#666","strokeWidth":0.6},
   "encoding":{"x":{"datum":0.5,"type":"quantitative","axis":{"orient":"top","title":"Single Line to Ground Fault R1","labels":false,"ticks":false,"grid":false,"domain":false,"titleFontSize":4.5,"titlePadding":5}}}},
  {"data":{"values":[{}]},"mark":{"type":"text","angle":270,"fontSize":5,"color":"#B22222"},
   "encoding":{"x":{"datum":0.5,"type":"quantitative","axis":null},"y":{"datum":0.3,"type":"quantitative","axis":null},"text":{"value":"Fault"}}}
 ]},
{"width":120,"height":98,"title":{"text":"(h) L-G R2 R"},"resolve":{"axis":{"x":"independent","y":"independent"}},
 "layer":[
  {"data":{"name":"h"},"mark":{"type":"line","interpolate":"monotone","strokeWidth":0.85,"clip":true},
   "encoding":{
    "x":{"field":"t","type":"quantitative","scale":{"domain":[0.4,0.6],"nice":false,"zero":false},"axis":{"title":"Time (seconds)","labelOverlap":false,"values":[0.4,0.41,0.42,0.43,0.44,0.45,0.46,0.47,0.48,0.49,0.5,0.51,0.52,0.53,0.54,0.55,0.56,0.57,0.58,0.59,0.6],"labelExpr":"indexof([0.4,0.45,0.5,0.55,0.6], datum.value) >= 0 ? format(datum.value, '~g') : ''"}},
    "y":{"field":"v","type":"quantitative","scale":{"domain":[-6.5,5.2],"nice":false,"zero":false},"axis":{"title":"Current (A)","labelOverlap":false,"values":[-6.5,-6,-5.5,-5,-4.5,-4,-3.5,-3,-2.5,-2,-1.5,-1,-0.5,0,0.5,1,1.5,2,2.5,3,3.5,4,4.5,5],"labelExpr":"indexof([-5,0,5], datum.value) >= 0 ? format(datum.value, 'd') : ''"}},
    "color":{"field":"s","type":"nominal","scale":{"domain":["A","B","C"],"range":["#0072BD","#D95319","#EDB120"]},"legend":{"title":null,"labelExpr":"'Current Ph. ' + datum.label + ' R2'"}}}},
  {"data":{"values":[{}]},"mark":{"type":"rule","strokeDash":[2,1.5],"color":"#666","strokeWidth":0.6},
   "encoding":{"x":{"datum":0.5,"type":"quantitative","axis":{"orient":"top","title":"Single Line to Ground Fault R2","labels":false,"ticks":false,"grid":false,"domain":false,"titleFontSize":4.5,"titlePadding":5}}}},
  {"data":{"values":[{}]},"mark":{"type":"text","angle":270,"fontSize":5,"color":"#B22222"},
   "encoding":{"x":{"datum":0.5,"type":"quantitative","axis":null},"y":{"datum":0.3,"type":"quantitative","axis":null},"text":{"value":"Fault"}}}
 ]}
]
}
